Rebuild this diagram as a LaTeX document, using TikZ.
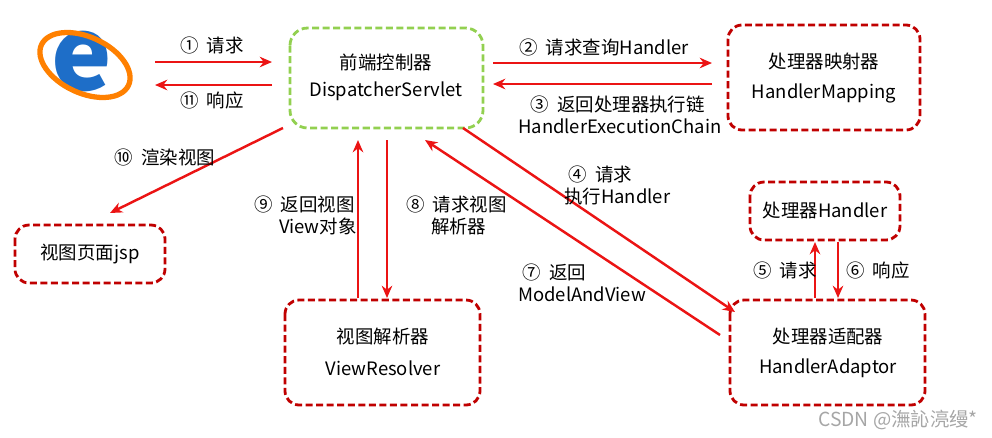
\documentclass[tikz,border=0pt]{standalone}
\usepackage{fontspec}
\setmainfont{Noto Sans CJK SC}
\usetikzlibrary{positioning,arrows.meta}
\definecolor{boxred}{RGB}{192,0,0}
\definecolor{boxgreen}{RGB}{146,208,80}
\definecolor{arrred}{RGB}{235,20,20}
\definecolor{ieblue}{RGB}{30,110,200}
\tikzset{
  comp/.style={draw=boxred, line width=1.6pt, dash pattern=on 4pt off 2pt, rounded corners=8pt, fill=white},
  flow/.style={draw=arrred, line width=1.4pt, -{Stealth[length=7pt,width=6pt]}},
  lbl/.style={font=\fontsize{10.5}{12.5}\selectfont, align=left},
}
\begin{document}
\begin{tikzpicture}[x=0.02cm,y=-0.02cm]
			\useasboundingbox (0,0) rectangle (992,437);
			% browser logo
			\node[text=ieblue, font=\fontsize{58}{58}\selectfont\bfseries](ie) at (82,62) {e};
			\draw[orange, line width=3pt, rotate around={-25:(85,65)}] (85,65) ellipse (48 and 28);
			
			% components
			\path[draw=boxgreen, line width=1.6pt, dash pattern=on 4pt off 2pt, rounded corners=10pt] (290,28) rectangle (483,128);
			\node[lbl](dst) at (386,62) {前端控制器};
			\node[lbl](dsb) at (386,91) {DispatcherServlet};
			\path[comp] (728,25) rectangle (920,130);
			\node[lbl](hmt) at (824,62) {处理器映射器};
			\node[lbl](hmb) at (824,93) {HandlerMapping};
			\path[comp] (750,182) rectangle (900,240);
			\node[lbl](h) at (825,211) {处理器Handler};
			\path[comp] (730,300) rectangle (925,405);
			\node[lbl](hat) at (828,337) {处理器适配器};
			\node[lbl](hab) at (828,368) {HandlerAdaptor};
			\path[comp] (285,300) rectangle (480,405);
			\node[lbl](vrt) at (383,337) {视图解析器};
			\node[lbl](vrb) at (383,368) {ViewResolver};
			\path[comp] (15,225) rectangle (165,283);
			\node[lbl](jsp) at (90,254) {视图页面jsp};
			
			% connector ends
			\coordinate (a1) at (155,62);   \coordinate (b1) at (272,62);
			\coordinate (a11) at (272,85);  \coordinate (b11) at (155,85);
			\coordinate (a2) at (493,63);   \coordinate (b2) at (712,63);
			\coordinate (a3) at (712,84);   \coordinate (b3) at (493,84);
			\coordinate (a10) at (283,128); \coordinate (b10) at (110,213);
			\coordinate (a9) at (358,298);  \coordinate (b9) at (358,140);
			\coordinate (a8) at (387,140);  \coordinate (b8) at (387,298);
			\coordinate (a4) at (463,128);  \coordinate (b4) at (735,312);
			\coordinate (a7) at (720,335);  \coordinate (b7) at (425,140);
			\coordinate (a5) at (815,298);  \coordinate (b5) at (815,242);
			\coordinate (a6) at (838,242);  \coordinate (b6) at (838,298);
			
			\draw[flow] (a1) -- (b1);
			\draw[flow] (a11) -- (b11);
			\draw[flow] (a2) -- (b2);
			\draw[flow] (a3) -- (b3);
			\draw[flow] (a10) -- (b10);
			\draw[flow] (a9) -- (b9);
			\draw[flow] (a8) -- (b8);
			\draw[flow] (a4) -- (b4);
			\draw[flow] (a7) -- (b7);
			\draw[flow] (a5) -- (b5);
			\draw[flow] (a6) -- (b6);
			
			% labels
			\node[lbl](l1) at (212,45) {① \ 请求};
			\node[lbl](l11) at (212,100) {⑪ \ 响应};
			\node[lbl](l2) at (604,47) {② \ 请求查询Handler};
			\node[lbl, anchor=north west](l3) at (512,90) {\ \ \ ③ \ 返回处理器执行链\\HandlerExecutionChain};
			\node[lbl](l10) at (165,157) {⑩ \ 渲染视图};
			\node[lbl, anchor=north west](l9) at (248,190) {⑨ \ 返回视图\\\ \ \ \ \ \ View对象};
			\node[lbl, anchor=north west](l8) at (400,190) {⑧ \ 请求视图\\\ \ \ \ \ \ 解析器};
			\node[lbl, anchor=north west](l4) at (558,160) {\ ④ \ 请求\\执行Handler};
			\node[lbl, anchor=north west](l7) at (512,258) {\ ⑦ \ 返回\\ModelAndView};
			\node[lbl](l5) at (785,270) {⑤ \ 请求};
			\node[lbl](l6) at (878,270) {⑥ \ 响应};
			\node[text=gray!70, font=\fontsize{11}{13}\selectfont](wm) at (898,420) {CSDN @潕訫湸缦*};
		\end{tikzpicture}
\end{document}
